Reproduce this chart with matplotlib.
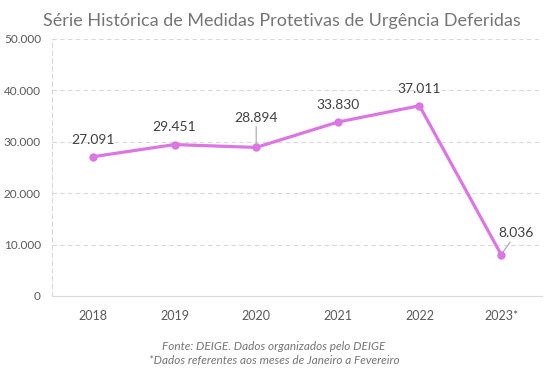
import matplotlib.pyplot as plt
from matplotlib.ticker import FuncFormatter

plt.rcParams['font.family'] = ['Lato', 'DejaVu Sans']

# dados
anos = ['2018', '2019', '2020', '2021', '2022', '2023*']
medidas = [27091, 29451, 28894, 33830, 37011, 8036]
# deslocamento dos rótulos (pontos)
offsets = [(0, 8), (0, 8), (0, 17), (0, 8), (0, 8), (11, 11)]
leader = [False, False, True, False, False, True]

cor = '#DA77E2'

fig = plt.figure(figsize=(5.48, 3.75), dpi=100)
ax = fig.add_axes([0.095, 0.211, 0.894, 0.685])

x = list(range(len(anos)))
ax.plot(x, medidas, color=cor, lw=2.3, marker='o', ms=5, zorder=3)

def fmt(v):
    return '{:,}'.format(int(v)).replace(',', '.')

for xi, v, off, ld in zip(x, medidas, offsets, leader):
    if ld:
        ax.annotate(fmt(v), (xi, v), xytext=off, textcoords='offset points',
                    ha='center', va='bottom', fontsize=10, color='#404040',
                    arrowprops=dict(arrowstyle='-', color='#A6A6A6', lw=0.8,
                                    shrinkA=0, shrinkB=2))
    else:
        ax.annotate(fmt(v), (xi, v), xytext=off, textcoords='offset points',
                    ha='center', va='bottom', fontsize=10, color='#404040')

ax.set_xlim(-0.5, 5.5)
ax.set_ylim(0, 50000)
ax.set_yticks(range(0, 50001, 10000))
ax.yaxis.set_major_formatter(FuncFormatter(lambda v, p: fmt(v)))
ax.set_xticks(x)
ax.set_xticklabels(anos)
ax.tick_params(length=0, labelsize=9, colors='#595959')
ax.tick_params(axis='x', pad=10)
ax.tick_params(axis='y', pad=8, labelsize=8.5)

ax.grid(axis='y', color='#D9D9D9', lw=0.8, ls=(0, (4, 3)))
ax.set_axisbelow(True)
for s in ['top', 'right']:
    ax.spines[s].set_visible(False)
ax.spines['left'].set_color('#D9D9D9')
ax.spines['left'].set_linestyle((0, (4, 3)))
ax.spines['left'].set_linewidth(0.8)
ax.spines['bottom'].set_color('#D9D9D9')
ax.spines['bottom'].set_linewidth(0.8)

fig.text(0.515, 0.945, 'Série Histórica de Medidas Protetivas de Urgência Deferidas',
         ha='center', va='center', fontsize=13, color='#757575')
fig.text(0.5, 0.075, 'Fonte: DEIGE. Dados organizados pelo DEIGE',
         ha='center', va='center', fontsize=8.5, style='italic', color='#757575')
fig.text(0.5, 0.038, '*Dados referentes aos meses de Janeiro a Fevereiro',
         ha='center', va='center', fontsize=8.5, style='italic', color='#757575')

fig.savefig('out.png', dpi=100, facecolor='white')
